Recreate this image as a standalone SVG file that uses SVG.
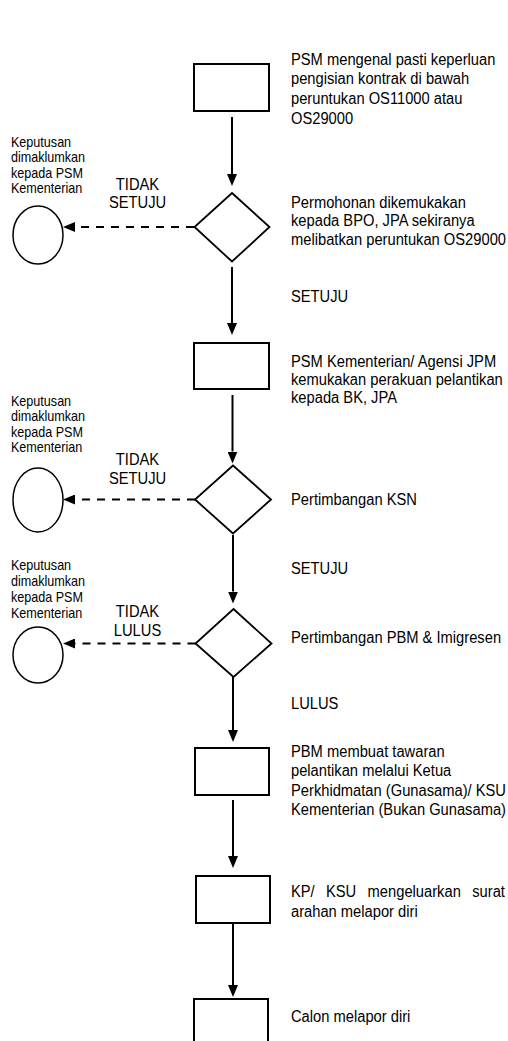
<svg xmlns="http://www.w3.org/2000/svg" width="508" height="1041" viewBox="0 0 508 1041">
<style>
text{font-family:"Liberation Sans",Arial,sans-serif;fill:#000}
.t{font-size:16px}
.s{font-size:14px}
.box{fill:#fff;stroke:#000;stroke-width:2}
.dia{fill:#fff;stroke:#000;stroke-width:1.8}
.end{fill:#fff;stroke:#000;stroke-width:1.5}
.ln{fill:none;stroke:#000;stroke-width:2}
.dash{fill:none;stroke:#000;stroke-width:2;stroke-dasharray:8,7}
</style>
<defs>
<marker id="ah" markerUnits="userSpaceOnUse" markerWidth="12" markerHeight="10" refX="0" refY="5" orient="auto">
<path d="M0,0 L12,5 L0,10 z" fill="#000"/>
</marker>
</defs>
<rect width="508" height="1041" fill="#fff"/>

<g id="n1">
<rect class="box" x="194" y="64" width="75" height="47"/>
<text class="t" transform="scale(0.92,1)"><tspan x="316.3" y="65">PSM mengenal pasti keperluan</tspan><tspan x="316.3" y="84.5">pengisian kontrak di bawah</tspan><tspan x="316.3" y="104">peruntukan OS11000 atau</tspan><tspan x="316.3" y="124">OS29000</tspan></text>
</g>

<g id="d1">
<polygon class="dia" points="232,193 269.5,227 232,261.5 194.5,227"/>
<text class="t" transform="scale(0.92,1)"><tspan x="316.3" y="208">Permohonan dikemukakan</tspan><tspan x="316.3" y="226.5">kepada BPO, JPA sekiranya</tspan><tspan x="316.3" y="245">melibatkan peruntukan OS29000</tspan></text>
</g>

<g id="e1">
<ellipse class="end" cx="38" cy="235" rx="25" ry="29"/>
<text class="s" transform="scale(0.9,1)"><tspan x="12.2" y="147">Keputusan</tspan><tspan x="12.2" y="162.5">dimaklumkan</tspan><tspan x="12.2" y="178">kepada PSM</tspan><tspan x="12.2" y="193">Kementerian</tspan></text>
</g>

<g id="n2">
<rect class="box" x="194" y="343" width="75" height="46"/>
<text class="t" transform="scale(0.92,1)"><tspan x="316.3" y="367">PSM Kementerian/ Agensi JPM</tspan><tspan x="316.3" y="385">kemukakan perakuan pelantikan</tspan><tspan x="316.3" y="403.5">kepada BK, JPA</tspan></text>
</g>

<g id="d2">
<polygon class="dia" points="233,465.5 271,499.5 233,533.5 195,499.5"/>
<text class="t" transform="scale(0.92,1)"><tspan x="316.3" y="505">Pertimbangan KSN</tspan></text>
</g>

<g id="e2">
<ellipse class="end" cx="38" cy="500" rx="25" ry="32"/>
<text class="s" transform="scale(0.9,1)"><tspan x="12.2" y="406">Keputusan</tspan><tspan x="12.2" y="421.3">dimaklumkan</tspan><tspan x="12.2" y="436.6">kepada PSM</tspan><tspan x="12.2" y="452">Kementerian</tspan></text>
</g>

<g id="d3">
<polygon class="dia" points="233.5,609 271.5,643.5 233.5,677 195.5,643.5"/>
<text class="t" transform="scale(0.92,1)"><tspan x="316.3" y="643">Pertimbangan PBM &amp; Imigresen</tspan></text>
</g>

<g id="e3">
<ellipse class="end" cx="38" cy="655" rx="25" ry="28"/>
<text class="s" transform="scale(0.9,1)"><tspan x="12.2" y="570.5">Keputusan</tspan><tspan x="12.2" y="586.5">dimaklumkan</tspan><tspan x="12.2" y="602.5">kepada PSM</tspan><tspan x="12.2" y="618.5">Kementerian</tspan></text>
</g>

<g id="n3">
<rect class="box" x="195" y="748" width="74" height="47"/>
<text class="t" transform="scale(0.92,1)"><tspan x="316.3" y="757">PBM membuat tawaran</tspan><tspan x="316.3" y="776.5">pelantikan melalui Ketua</tspan><tspan x="316.3" y="796">Perkhidmatan (Gunasama)/ KSU</tspan><tspan x="316.3" y="815.5">Kementerian (Bukan Gunasama)</tspan></text>
</g>

<g id="n4">
<rect class="box" x="196" y="876" width="74" height="47"/>
<text class="t" transform="scale(0.92,1)"><tspan x="316.3" y="897">KP/</tspan><tspan x="354.3" y="897">KSU</tspan><tspan x="399.6" y="897">mengeluarkan</tspan><tspan x="513.3" y="897">surat</tspan><tspan x="316.3" y="917">arahan melapor diri</tspan></text>
</g>

<g id="n5">
<rect class="box" x="194" y="999" width="74" height="60"/>
<text class="t" transform="scale(0.92,1)"><tspan x="316.3" y="1022">Calon melapor diri</tspan></text>
</g>

<g id="connectors">
<line class="ln" x1="232" y1="117" x2="232" y2="174" marker-end="url(#ah)"/>
<line class="ln" x1="232" y1="267" x2="232" y2="323" marker-end="url(#ah)"/>
<line class="ln" x1="232.5" y1="395" x2="232.5" y2="451.5" marker-end="url(#ah)"/>
<line class="ln" x1="233" y1="535" x2="233" y2="591.5" marker-end="url(#ah)"/>
<line class="ln" x1="233" y1="677" x2="233" y2="730" marker-end="url(#ah)"/>
<line class="ln" x1="233" y1="800" x2="233" y2="856" marker-end="url(#ah)"/>
<line class="ln" x1="233" y1="923" x2="233" y2="985" marker-end="url(#ah)"/>
<line class="dash" x1="194" y1="227" x2="75" y2="227" marker-end="url(#ah)"/>
<line class="dash" x1="195" y1="499.5" x2="75" y2="499.5" marker-end="url(#ah)"/>
<line class="dash" x1="195.5" y1="643.5" x2="75" y2="643.5" marker-end="url(#ah)"/>
<text class="t" text-anchor="middle" transform="scale(0.92,1)"><tspan x="149.5" y="190">TIDAK</tspan><tspan x="149.5" y="208.5">SETUJU</tspan></text>
<text class="t" text-anchor="middle" transform="scale(0.92,1)"><tspan x="149.5" y="465">TIDAK</tspan><tspan x="149.5" y="484">SETUJU</tspan></text>
<text class="t" text-anchor="middle" transform="scale(0.92,1)"><tspan x="149.5" y="617">TIDAK</tspan><tspan x="149.5" y="636">LULUS</tspan></text>
<text class="t" transform="scale(0.92,1)" x="316.3" y="302">SETUJU</text>
<text class="t" transform="scale(0.92,1)" x="316.3" y="574">SETUJU</text>
<text class="t" transform="scale(0.92,1)" x="316.3" y="709">LULUS</text>
</g>
</svg>
